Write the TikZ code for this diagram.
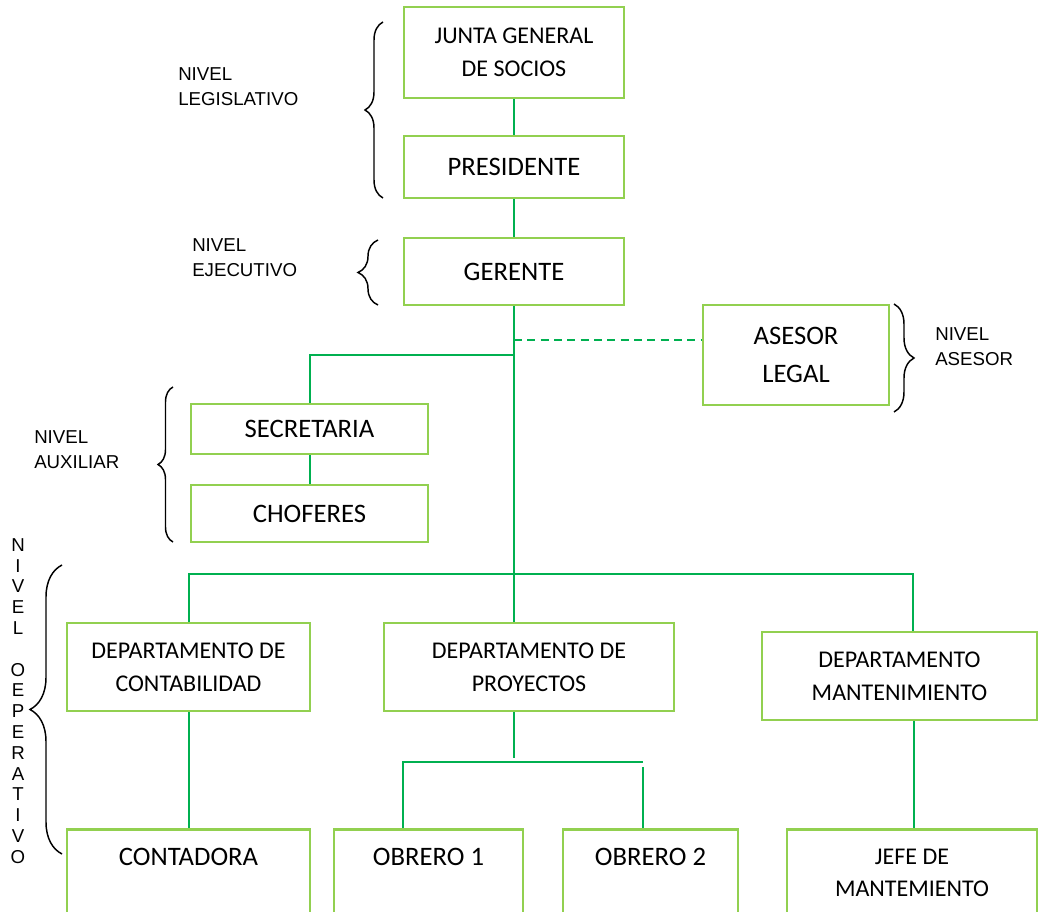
\documentclass[tikz,border=0pt]{standalone}
\usepackage{fontspec}
\setmainfont{Carlito}
\newfontfamily\arialfont{Liberation Sans}
\usetikzlibrary{decorations.pathreplacing}
\definecolor{boxgreen}{HTML}{92D050}
\definecolor{linegreen}{HTML}{00B050}
\tikzset{
  box/.style={draw=boxgreen, line width=2pt, align=center, inner sep=0pt},
  boxwh/.style n args={2}{minimum width=#1*0.75pt, minimum height=#2*0.75pt},
  fsmall/.style={font=\fontsize{18}{24.75}\selectfont},
  flarge/.style={font=\fontsize{20}{28.5}\selectfont},
  txt/.style={align=center, inner sep=0pt},
  lvl/.style={font=\arialfont\fontsize{14}{19}\selectfont, align=left, anchor=west, inner sep=0pt},
  conn/.style={draw=linegreen, line width=1.5pt},
  lvlbrace/.style={draw=black, line width=1.1pt, decorate, decoration={brace, amplitude=#1*0.75pt}}
}
\begin{document}
\begin{tikzpicture}[x=0.75pt,y=-0.75pt]
\useasboundingbox (0,0) rectangle (1043,912);
\clip (0,0) rectangle (1043,912);

% --- boxes of the chart
\node[box, boxwh={220}{91}, fsmall]  (junta)  at (514,52.5)  {JUNTA GENERAL\\DE SOCIOS};
\node[box, boxwh={220}{62}, flarge]  (pres)   at (514,167)   {PRESIDENTE};
\node[box, boxwh={220}{67}, flarge]  (ger)    at (514,271.5) {GERENTE};
\node[box, boxwh={186}{100}, flarge] (asesor) at (796,355)   {ASESOR\\LEGAL};
\node[box, boxwh={237}{50}, flarge]  (secr)   at (309.5,429) {SECRETARIA};
\node[box, boxwh={237}{57}, flarge]  (chof)   at (309.5,513.5) {CHOFERES};
\node[box, boxwh={243}{88}, fsmall]  (depc)   at (188.5,667) {DEPARTAMENTO DE\\CONTABILIDAD};
\node[box, boxwh={290}{88}, fsmall]  (depp)   at (529,667)   {DEPARTAMENTO DE\\PROYECTOS};
\node[box, boxwh={275}{88}, fsmall]  (depm)   at (899.5,676) {DEPARTAMENTO\\MANTENIMIENTO};

% bottom row: boxes run past the lower edge, text sits near their tops
\node[box, boxwh={243}{160}, anchor=north] (conta) at (188.5,828) {};
\node[box, boxwh={189}{160}, anchor=north] (ob1)   at (428.5,828) {};
\node[box, boxwh={175}{160}, anchor=north] (ob2)   at (650.5,828) {};
\node[box, boxwh={250}{160}, anchor=north] (jefe)  at (912,828)   {};
\node[txt, flarge] (contaT) at (188.5,857) {CONTADORA};
\node[txt, flarge] (ob1T)   at (428.5,857) {OBRERO 1};
\node[txt, flarge] (ob2T)   at (650.5,857) {OBRERO 2};
\node[txt, font=\fontsize{18}{24}\selectfont] (jefeT) at (912,873) {JEFE DE\\MANTEMIENTO};

% --- connectors
\coordinate (jD) at (514,340);
\coordinate (jA) at (514,355);
\coordinate (jB) at (514,574);
\coordinate (bR) at (913,574);
\coordinate (pT) at (514,758);
\coordinate (oL) at (403,762);
\coordinate (oR) at (643,762);
\coordinate (oR2) at (643,767);
\coordinate (mT) at (914,720);

\draw[conn] (junta) -- (pres);
\draw[conn] (pres) -- (ger);
\draw[conn] (ger.south) -- (ger.south |- depp.north);
\draw[conn, dash pattern=on 6pt off 4pt] (jD) -- (jD -| asesor.west);
\draw[conn] (jA) -| (secr.north);
\draw[conn] (secr) -- (chof);
\draw[conn] (depc.north) |- (jB);
\draw[conn] (jB) -- (bR) -- (bR |- depm.north);
\draw[conn] (depc) -- (conta);
\draw[conn] (pT |- depp.south) -- (pT);
\draw[conn] (oL |- ob1.north) -- (oL) -- (oR);
\draw[conn] (oR2) -- (oR2 |- ob2.north);
\draw[conn] (mT |- depm.south) -- (mT |- jefe.north);

% --- level labels and braces
\node[lvl] (lleg) at (178,87)    {NIVEL\\LEGISLATIVO};
\node[lvl] (leje) at (192,257.5) {NIVEL\\EJECUTIVO};
\node[lvl] (lase) at (935,346.5) {NIVEL\\ASESOR};
\node[lvl] (laux) at (34,450)    {NIVEL\\AUXILIAR};
\node[txt, font=\arialfont\fontsize{14}{15.6}\selectfont] (lope) at (18,701)
  {N\\I\\V\\E\\L\\[0pt] \\O\\E\\P\\E\\R\\A\\T\\I\\V\\O};

\draw[lvlbrace=18] (383,198) -- (383,22);
\draw[lvlbrace=20] (378,305) -- (378,240);
\draw[lvlbrace=20] (894,304) -- (894,412);
\draw[lvlbrace=15] (173,542) -- (173,387);
\draw[lvlbrace=32] (62,854) -- (62,565);
\end{tikzpicture}
\end{document}
